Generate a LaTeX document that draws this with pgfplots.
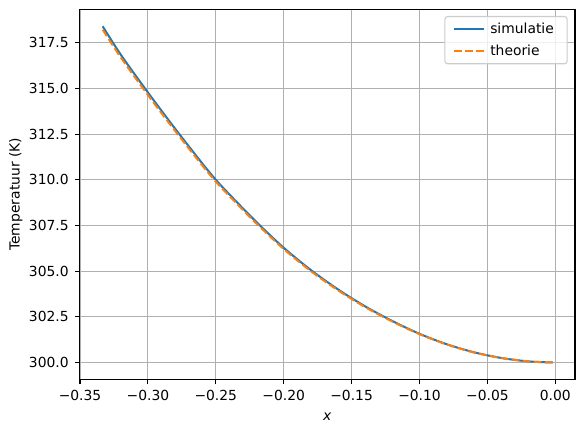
\documentclass[border=0pt]{standalone}
\usepackage{pgfplots}
\pgfplotsset{compat=1.18}
\usepackage{fontspec}
\setmainfont{DejaVu Sans}
\definecolor{tabblue}{HTML}{1F77B4}
\definecolor{taborange}{HTML}{FF7F0E}
\definecolor{gridgray}{HTML}{B0B0B0}
\definecolor{legframe}{HTML}{CCCCCC}

\begin{document}
\fontsize{10.4}{12.5}\selectfont
\begin{tikzpicture}
  \path[use as bounding box] (-59.8pt,-39.5pt) rectangle (378.25pt,284.5pt);
  \begin{axis}[
      scale only axis,
      width=371.5pt, height=277.5pt,
      xmin=-0.3502, xmax=0.0145,
      ymin=299.08, ymax=319.33,
      xtick={-0.35,-0.30,-0.25,-0.20,-0.15,-0.10,-0.05,0},
      xticklabels={−0.35,−0.30,−0.25,−0.20,−0.15,−0.10,−0.05,0.00},
      ytick={300,302.5,305,307.5,310,312.5,315,317.5},
      yticklabels={300.0,302.5,305.0,307.5,310.0,312.5,315.0,317.5},
      tick align=outside, tick pos=left,
      major tick length=3.65pt,
      every tick/.style={black, line width=0.8pt},
      axis line style={line width=0.8pt},
      grid=major,
      major grid style={gridgray, line width=0.8pt},
      ticklabel style={font=\fontsize{10.4}{12.5}\selectfont},
      xticklabel style={yshift=-1pt},
      yticklabel style={xshift=-1pt},
      xlabel={\textit{x}},
      ylabel={Temperatuur (K)},
      label style={font=\fontsize{10.4}{12.5}\selectfont},
      xlabel style={at={(axis description cs:0.5,-0.1)}, anchor=center},
      ylabel style={at={(axis description cs:-0.129,0.5)}, anchor=center},
      legend style={at={(rel axis cs:1,1)}, xshift=-5.5pt, yshift=-5pt, anchor=north east,
        draw=legframe, line width=0.8pt, rounded corners=2pt, fill=white, fill opacity=0.8, text opacity=1,
        font=\fontsize{10.4}{12.5}\selectfont, row sep=2.5pt, inner xsep=6pt, inner ysep=3pt,
        nodes={inner xsep=4pt}},
      legend cell align=left,
    ]
    \addplot[tabblue, line width=1.5pt, smooth,
      legend image code/.code={\draw[tabblue, line width=1.5pt] (0pt,0pt) -- (22.5pt,0pt);}] coordinates {
      (-0.3333,318.40) (-0.32,316.85) (-0.30,314.78) (-0.28,312.80) (-0.26,310.90)
      (-0.25,310.00) (-0.24,309.20) (-0.22,307.68) (-0.20,306.28) (-0.18,305.06)
      (-0.16,304.00) (-0.14,303.07) (-0.12,302.27) (-0.10,301.57) (-0.08,301.00)
      (-0.06,300.56) (-0.04,300.25) (-0.02,300.06) (-0.002,300.00)
    };
    \addlegendentry{simulatie}
    \addplot[taborange, line width=1.5pt, smooth, dash pattern=on 5.8pt off 2.5pt,
      legend image code/.code={\draw[taborange, line width=1.5pt, dash pattern=on 5.8pt off 2.5pt] (0pt,0pt) -- (22.5pt,0pt);}] coordinates {
      (-0.3333,318.22) (-0.32,316.70) (-0.30,314.64) (-0.28,312.68) (-0.26,310.79)
      (-0.25,309.90) (-0.24,309.11) (-0.22,307.60) (-0.20,306.21) (-0.18,305.00)
      (-0.16,303.95) (-0.14,303.03) (-0.12,302.24) (-0.10,301.55) (-0.08,300.99)
      (-0.06,300.55) (-0.04,300.25) (-0.02,300.06) (-0.002,300.00)
    };
    \addlegendentry{theorie}
  \end{axis}
\end{tikzpicture}
\end{document}
